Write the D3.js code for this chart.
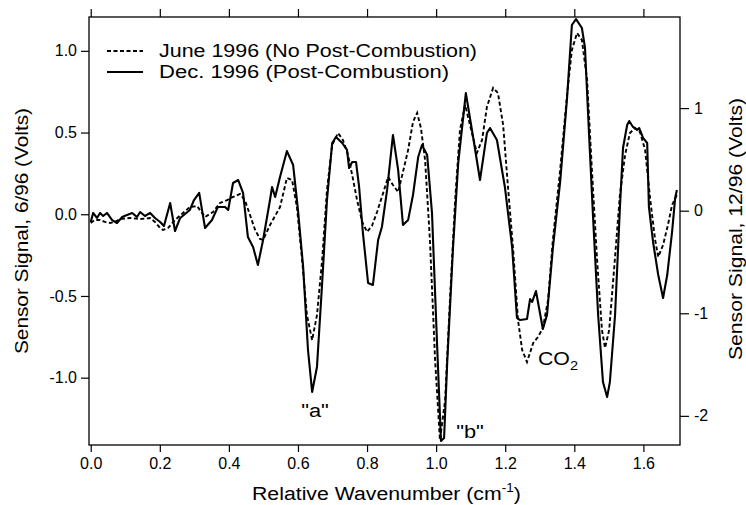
<!DOCTYPE html>
<html>
<head>
<meta charset="utf-8">
<script src="https://cdn.jsdelivr.net/npm/d3@7"></script>
<style>
  body { margin: 0; background: #fff; }
  svg { display: block; font-family: "Liberation Sans", Arial, Helvetica, sans-serif; }
</style>
</head>
<body>
<div class="container"></div>
<script>
const w = 746;
const h = 505;

// June 1996 (dashed, left axis, 6/96 volts)
const juneWn = [0.000,0.012,0.027,0.041,0.056,0.070,0.085,0.114,0.143,0.172,0.186,0.201,0.209,0.224,0.244,0.264,0.287,0.308,0.331,0.354,0.374,0.395,0.412,0.432,0.446,0.461,0.476,0.490,0.499,0.519,0.548,0.568,0.583,0.597,0.612,0.626,0.641,0.655,0.670,0.684,0.699,0.716,0.730,0.745,0.757,0.771,0.786,0.800,0.814,0.829,0.843,0.861,0.875,0.890,0.904,0.919,0.933,0.945,0.956,0.968,0.982,0.997,1.011,1.026,1.040,1.055,1.069,1.084,1.098,1.118,1.133,1.147,1.165,1.179,1.194,1.208,1.223,1.237,1.249,1.263,1.281,1.295,1.309,1.324,1.338,1.359,1.379,1.393,1.408,1.422,1.437,1.451,1.466,1.480,1.489,1.501,1.515,1.532,1.547,1.561,1.576,1.590,1.605,1.620,1.634,1.643,1.657,1.671,1.683,1.697];
const juneVal = [-0.053,-0.035,-0.035,-0.047,-0.053,-0.047,-0.029,-0.023,-0.029,-0.023,-0.047,-0.084,-0.096,-0.084,-0.035,0.002,0.044,0.050,-0.017,0.014,0.069,0.087,0.106,0.124,0.087,-0.004,-0.096,-0.151,-0.157,-0.066,0.044,0.222,0.210,0.044,-0.280,-0.617,-0.770,-0.617,-0.280,0.149,0.424,0.497,0.455,0.363,0.240,0.087,-0.047,-0.108,-0.072,0.014,0.106,0.228,0.179,0.136,0.259,0.394,0.565,0.620,0.528,0.332,-0.157,-0.892,-1.382,-1.137,-0.525,0.087,0.516,0.669,0.546,0.375,0.455,0.657,0.773,0.742,0.546,0.167,-0.219,-0.647,-0.830,-0.904,-0.788,-0.751,-0.696,-0.525,-0.157,0.271,0.730,1.006,1.109,1.066,0.822,0.271,-0.280,-0.708,-0.818,-0.708,-0.341,0.118,0.363,0.497,0.528,0.503,0.394,0.087,-0.157,-0.261,-0.188,-0.066,0.057,0.118];

// Dec. 1996 (solid, right axis, 12/96 volts)
const decWn = [0.000,0.007,0.018,0.027,0.036,0.047,0.062,0.076,0.091,0.105,0.120,0.134,0.143,0.157,0.172,0.186,0.201,0.212,0.230,0.244,0.259,0.273,0.287,0.299,0.314,0.331,0.351,0.368,0.389,0.398,0.412,0.427,0.441,0.455,0.470,0.484,0.499,0.519,0.525,0.534,0.548,0.568,0.586,0.600,0.615,0.629,0.641,0.655,0.670,0.684,0.699,0.710,0.728,0.742,0.748,0.757,0.768,0.777,0.788,0.803,0.817,0.832,0.843,0.858,0.875,0.890,0.904,0.919,0.933,0.948,0.959,0.974,0.988,1.003,1.014,1.023,1.032,1.049,1.064,1.086,1.107,1.127,1.147,1.156,1.176,1.199,1.220,1.234,1.243,1.263,1.272,1.278,1.289,1.309,1.321,1.338,1.359,1.379,1.393,1.405,1.422,1.431,1.440,1.454,1.469,1.483,1.495,1.503,1.518,1.532,1.541,1.553,1.559,1.570,1.582,1.588,1.599,1.611,1.616,1.628,1.643,1.657,1.669,1.683,1.692,1.697];
const decVal = [-0.110,-0.022,-0.071,-0.022,-0.052,-0.022,-0.091,-0.120,-0.061,-0.042,-0.022,-0.061,-0.013,-0.052,-0.022,-0.071,-0.110,-0.149,0.075,-0.198,-0.071,-0.032,0.007,0.104,0.173,-0.169,-0.091,0.036,0.036,0.007,0.270,0.299,0.173,-0.256,-0.354,-0.529,-0.286,0.104,0.231,0.134,0.328,0.581,0.445,0.007,-0.549,-1.358,-1.767,-1.523,-0.705,0.104,0.660,0.718,0.660,0.592,0.416,0.475,0.475,0.231,-0.217,-0.705,-0.724,-0.286,-0.159,0.202,0.738,0.397,-0.139,-0.090,0.153,0.523,0.640,0.543,-0.022,-1.328,-2.244,-2.215,-1.484,-0.354,0.465,1.146,0.718,0.299,0.757,0.806,0.689,0.231,-0.354,-1.046,-1.066,-1.056,-0.861,-0.890,-0.783,-1.153,-1.017,-0.364,0.280,1.097,1.810,1.868,1.781,1.586,0.932,-0.042,-1.017,-1.670,-1.817,-1.670,-1.017,0.026,0.611,0.835,0.874,0.816,0.787,0.806,0.709,0.660,0.036,-0.305,-0.627,-0.851,-0.627,-0.208,0.124,0.202];

const xTicks = [0.0, 0.2, 0.4, 0.6, 0.8, 1.0, 1.2, 1.4, 1.6];
const leftTicks = [-1.0, -0.5, 0.0, 0.5, 1.0];
const rightTicks = [-2, -1, 0, 1];

const legendLabels = ["June 1996 (No Post-Combustion)", "Dec. 1996 (Post-Combustion)"];

const plot = {left: 89, right: 680, top: 17, bottom: 445};

const svg = d3.select(".container")
    .append("svg")
    .attr("width", w)
    .attr("height", h);

const xScale = d3.scaleLinear().domain([-0.005, 1.706]).range([plot.left, plot.right]);
const yLeft = d3.scaleLinear().domain([-1.412, 1.207]).range([plot.bottom, plot.top]);
const yRight = d3.scaleLinear().domain([-2.284, 1.888]).range([plot.bottom, plot.top]);

svg.append("clipPath").attr("id", "clip")
    .append("rect")
    .attr("x", plot.left).attr("y", plot.top)
    .attr("width", plot.right - plot.left)
    .attr("height", plot.bottom - plot.top);

// axes
const styleAxis = g => {
    g.select(".domain").remove();
    g.selectAll(".tick line").attr("stroke", "#000").attr("stroke-width", 1.2);
    g.selectAll(".tick text").attr("fill", "#000").attr("font-size", 16);
};

svg.append("g")
    .attr("transform", "translate(0," + plot.bottom + ")")
    .call(d3.axisBottom(xScale).tickValues(xTicks).tickSize(7).tickPadding(6).tickFormat(d => d.toFixed(1)))
    .call(styleAxis);

svg.append("g")
    .attr("transform", "translate(0," + plot.top + ")")
    .call(d3.axisTop(xScale).tickValues(xTicks).tickSize(8).tickFormat(""))
    .call(styleAxis);

svg.append("g")
    .attr("transform", "translate(" + plot.left + ",0)")
    .call(d3.axisLeft(yLeft).tickValues(leftTicks).tickSize(8).tickPadding(4).tickFormat(d => d.toFixed(1)))
    .call(styleAxis);

svg.append("g")
    .attr("transform", "translate(" + plot.right + ",0)")
    .call(d3.axisRight(yRight).tickValues(rightTicks).tickSize(9).tickPadding(5).tickFormat(d => String(d)))
    .call(styleAxis);

// frame
svg.append("rect")
    .attr("x", plot.left).attr("y", plot.top)
    .attr("width", plot.right - plot.left)
    .attr("height", plot.bottom - plot.top)
    .attr("fill", "none")
    .attr("stroke", "#000")
    .attr("stroke-width", 1.3);

// curves
const juneLine = d3.line()
    .x((d, i) => xScale(juneWn[i]))
    .y(d => yLeft(d));

const decLine = d3.line()
    .x((d, i) => xScale(decWn[i]))
    .y(d => yRight(d));

const curves = svg.append("g").attr("clip-path", "url(#clip)");

curves.append("path")
    .attr("d", juneLine(juneVal))
    .attr("fill", "none")
    .attr("stroke", "#000")
    .attr("stroke-width", 1.9)
    .attr("stroke-dasharray", "4,2.5");

curves.append("path")
    .attr("d", decLine(decVal))
    .attr("fill", "none")
    .attr("stroke", "#000")
    .attr("stroke-width", 2.1)
    .attr("stroke-linejoin", "round");

// legend
const legend = svg.append("g");
legend.append("line")
    .attr("x1", 107).attr("x2", 143).attr("y1", 51).attr("y2", 51)
    .attr("stroke", "#000").attr("stroke-width", 1.8).attr("stroke-dasharray", "4,2.5");
legend.append("line")
    .attr("x1", 107).attr("x2", 143).attr("y1", 72).attr("y2", 72)
    .attr("stroke", "#000").attr("stroke-width", 2);
legend.append("text")
    .attr("x", 159).attr("y", 57)
    .attr("font-size", 18)
    .attr("textLength", 318).attr("lengthAdjust", "spacingAndGlyphs")
    .text(legendLabels[0]);
legend.append("text")
    .attr("x", 159).attr("y", 78)
    .attr("font-size", 18)
    .attr("textLength", 290).attr("lengthAdjust", "spacingAndGlyphs")
    .text(legendLabels[1]);

// axis titles
svg.append("text")
    .attr("transform", "translate(28,231) rotate(-90)")
    .attr("text-anchor", "middle")
    .attr("font-size", 18)
    .attr("textLength", 246).attr("lengthAdjust", "spacingAndGlyphs")
    .text("Sensor Signal, 6/96 (Volts)");

svg.append("text")
    .attr("transform", "translate(742,229) rotate(-90)")
    .attr("text-anchor", "middle")
    .attr("font-size", 18)
    .attr("textLength", 262).attr("lengthAdjust", "spacingAndGlyphs")
    .text("Sensor Signal, 12/96 (Volts)");

const xTitle = svg.append("text")
    .attr("transform", "translate(252,500) scale(1.12,1)")
    .attr("font-size", 19);
xTitle.append("tspan").text("Relative Wavenumber (cm");
xTitle.append("tspan").attr("dy", -8).attr("font-size", 12).text("-1");
xTitle.append("tspan").attr("dy", 8).text(")");

// annotations
svg.append("text").attr("transform", "translate(315,417) scale(1.15,1)").attr("text-anchor", "middle")
    .attr("font-size", 19).text("\"a\"");
svg.append("text").attr("transform", "translate(470,438) scale(1.15,1)").attr("text-anchor", "middle")
    .attr("font-size", 19).text("\"b\"");
const co2 = svg.append("text").attr("transform", "translate(538,365) scale(1.12,1)").attr("font-size", 19);
co2.append("tspan").text("CO");
co2.append("tspan").attr("dy", 5).attr("font-size", 13).text("2");
</script>
</body>
</html>
